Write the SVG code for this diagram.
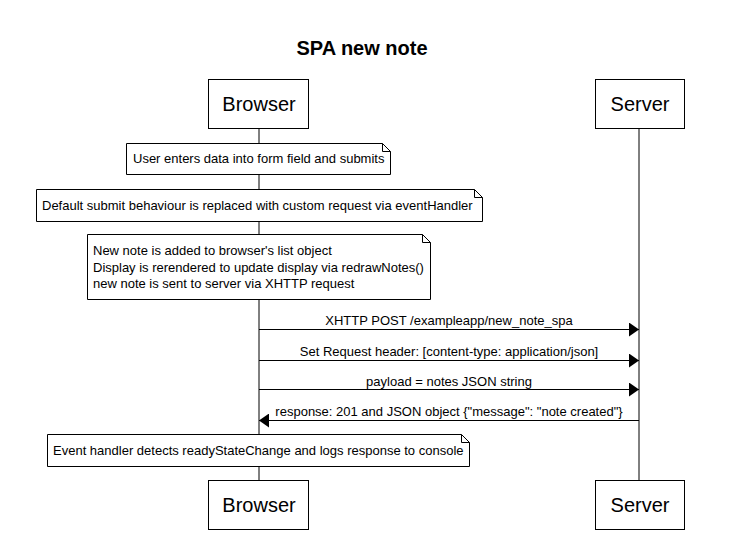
<svg xmlns="http://www.w3.org/2000/svg" width="738" height="541" viewBox="0 0 738 541">
<defs>
<style>
text{font-family:"Liberation Sans",Arial,sans-serif;fill:#000}
.box{fill:#fff;stroke:#000;stroke-width:1}
.actor{font-size:20px;text-anchor:middle}
.note{fill:#fff;stroke:#000;stroke-width:1}
.nt{font-size:13px}
.msg{font-size:13px;text-anchor:middle}
.life{stroke:#000;stroke-width:1;fill:none}
.arr{stroke:#000;stroke-width:1;fill:none}
</style>
<marker id="ah" markerWidth="10" markerHeight="14" refX="10" refY="7" orient="auto" markerUnits="userSpaceOnUse">
<path d="M0,0 L10,7 L0,14 Z" fill="#000"/>
</marker>
</defs>
<rect width="738" height="541" fill="#fff"/>
<text x="362" y="55" font-size="20" font-weight="bold" text-anchor="middle">SPA new note</text>
<g id="connectors">
<line class="life" x1="259" y1="128" x2="259" y2="480"/>
<line class="life" x1="639" y1="128" x2="639" y2="480"/>
<line class="arr" x1="259" y1="329.5" x2="639" y2="329.5" marker-end="url(#ah)"/>
<text class="msg" x="449" y="325">XHTTP POST /exampleapp/new_note_spa</text>
<line class="arr" x1="259" y1="360.5" x2="639" y2="360.5" marker-end="url(#ah)"/>
<text class="msg" x="449" y="356">Set Request header: [content-type: application/json]</text>
<line class="arr" x1="259" y1="389.5" x2="639" y2="389.5" marker-end="url(#ah)"/>
<text class="msg" x="449" y="386">payload = notes JSON string</text>
<line class="arr" x1="639" y1="420.5" x2="259" y2="420.5" marker-end="url(#ah)"/>
<text class="msg" x="449" y="416">response: 201 and JSON object {"message": "note created"}</text>
</g>
<g id="browser-top"><rect class="box" x="208.5" y="79.5" width="100" height="49"/><text class="actor" x="259" y="111">Browser</text></g>
<g id="server-top"><rect class="box" x="595.5" y="79.5" width="89" height="49"/><text class="actor" x="640" y="111">Server</text></g>
<g id="browser-bottom"><rect class="box" x="208.5" y="480.5" width="100" height="49"/><text class="actor" x="259" y="512">Browser</text></g>
<g id="server-bottom"><rect class="box" x="595.5" y="480.5" width="89" height="49"/><text class="actor" x="640" y="512">Server</text></g>
<g id="note1"><path class="note" d="M126.5,143.5 H382.5 L390.5,151.5 V174.5 H126.5 Z M382.5,143.5 V151.5 H390.5"/><text class="nt" x="133" y="163">User enters data into form field and submits</text></g>
<g id="note2"><path class="note" d="M36.5,189.5 H474.5 L482.5,197.5 V221.5 H36.5 Z M474.5,189.5 V197.5 H482.5"/><text class="nt" x="42" y="210">Default submit behaviour is replaced with custom request via eventHandler</text></g>
<g id="note3"><path class="note" d="M87.5,234.5 H422.5 L430.5,242.5 V299.5 H87.5 Z M422.5,234.5 V242.5 H430.5"/><text class="nt" x="93" y="255">New note is added to browser's list object</text><text class="nt" x="93" y="272">Display is rerendered to update display via redrawNotes()</text><text class="nt" x="93" y="288">new note is sent to server via XHTTP request</text></g>
<g id="note4"><path class="note" d="M47.5,434.5 H461.5 L469.5,442.5 V466.5 H47.5 Z M461.5,434.5 V442.5 H469.5"/><text class="nt" x="53" y="455">Event handler detects readyStateChange and logs response to console</text></g>
</svg>
